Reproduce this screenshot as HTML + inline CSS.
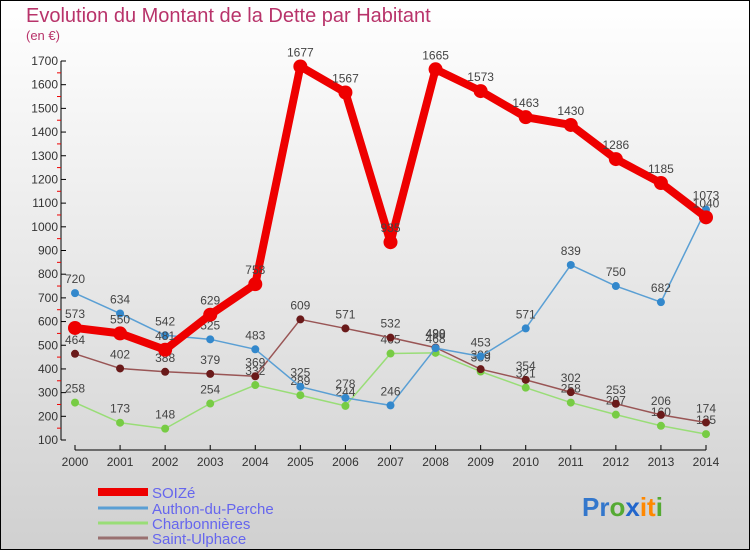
<!DOCTYPE html>
<html><head><meta charset="utf-8"><style>
body{margin:0;}
#c{width:750px;height:550px;position:relative;font-family:"Liberation Sans",sans-serif;}
text{font-family:"Liberation Sans",sans-serif;}
</style></head><body>
<div id="c">
<svg id="s" width="750" height="550" xmlns="http://www.w3.org/2000/svg">
<defs><linearGradient id="bg" x1="0" y1="0" x2="0" y2="1"><stop offset="0" stop-color="#ffffff"/><stop offset="1" stop-color="#d0d0d0"/></linearGradient></defs>
<rect x="0.5" y="0.5" width="749" height="549" fill="url(#bg)" stroke="#000"/>
<text x="26" y="22" font-size="20" fill="#b8336a">Evolution du Montant de la Dette par Habitant</text>
<text x="26" y="40" font-size="13" fill="#b8336a">(en €)</text>
<g id="axes"></g><g id="series"></g>
<g>
<line x1="98" y1="492" x2="148" y2="492" stroke="#ee0000" stroke-width="8"/>
<text x="152" y="498" font-size="15" fill="#6666ee">SOIZé</text>
<line x1="98" y1="508" x2="148" y2="508" stroke="#5a9fd4" stroke-width="3"/>
<text x="152" y="514" font-size="15" fill="#6666ee">Authon-du-Perche</text>
<line x1="98" y1="523" x2="148" y2="523" stroke="#99dd77" stroke-width="3"/>
<text x="152" y="529" font-size="15" fill="#6666ee">Charbonnières</text>
<line x1="98" y1="538" x2="148" y2="538" stroke="#997070" stroke-width="3"/>
<text x="152" y="544" font-size="15" fill="#6666ee">Saint-Ulphace</text>
</g>
<text x="582" y="516" font-size="26" font-weight="bold"><tspan fill="#3377cc">Pr</tspan><tspan fill="#55aa33">o</tspan><tspan fill="#2266cc">x</tspan><tspan fill="#ff8800">it</tspan><tspan fill="#55aa33">i</tspan></text>
</svg></div>
<script>
const years=[2000,2001,2002,2003,2004,2005,2006,2007,2008,2009,2010,2011,2012,2013,2014];
const soize=[573,550,481,629,758,1677,1567,935,1665,1573,1463,1430,1286,1185,1040];
const authon=[720,634,542,525,483,325,278,246,488,453,571,839,750,682,1073];
const charb=[258,173,148,254,332,289,244,465,468,389,321,258,207,160,125];
const ulphace=[464,402,388,379,369,609,571,532,490,399,354,302,253,206,174];
const yTicks=[100,200,300,400,500,600,700,800,900,1000,1100,1200,1300,1400,1500,1600,1700];
const NS="http://www.w3.org/2000/svg";
const X=i=>75+i*(631/14);
const Y=v=>440-(v-100)*(379/1600);
function mk(p,tag,at){const e=document.createElementNS(NS,tag);for(const k in at)e.setAttribute(k,at[k]);p.appendChild(e);return e;}
const ax=document.getElementById('axes');
let l=mk(ax,'line',{x1:61,y1:61,x2:61,y2:440,stroke:'#000'});


l=mk(ax,'line',{x1:75,y1:450,x2:706,y2:450,stroke:'#000'});


yTicks.forEach((v,i)=>{
  mk(ax,'line',{x1:61,y1:Y(v),x2:66,y2:Y(v),stroke:'#000'});
  if(i<yTicks.length-1)mk(ax,'line',{x1:57,y1:Y(v+50),x2:61,y2:Y(v+50),stroke:'#e00'});
  const t=mk(ax,'text',{x:58,y:Y(v)+4,'font-size':12,'text-anchor':'end',fill:'#333'});
  t.textContent=v;
  
  
});
years.forEach((y,i)=>{
  mk(ax,'line',{x1:X(i),y1:445,x2:X(i),y2:450,stroke:'#000'});
  const t=mk(ax,'text',{x:X(i),y:466,'font-size':12,'text-anchor':'middle',fill:'#333'});
  t.textContent=y;
  
  
});
const sg=document.getElementById('series');
function draw(data,name,color,dot,w,r){
  const g=mk(sg,'g',{});
  
  
  const pl=mk(g,'polyline',{points:data.map((v,i)=>X(i)+','+Y(v)).join(' '),fill:'none',stroke:color,'stroke-width':w,'stroke-linejoin':'round'});
  
  
  data.forEach((v,i)=>{
    const c=mk(g,'circle',{cx:X(i),cy:Y(v),r:r,fill:dot});
    
    
    const t=mk(g,'text',{x:X(i),y:Y(v)-10,'font-size':12,'text-anchor':'middle',fill:'#444'});
    t.textContent=v;
    
    
  });
}
draw(charb,'charbonnieres','#99dd77','#77cc44',1.5,4);
draw(ulphace,'saint-ulphace','#995555','#6a1a1a',1.5,4);
draw(authon,'authon','#5a9fd4','#3388cc',1.5,4);
draw(soize,'soize','#ee0000','#ee0000',8,7);
</script>
</body></html>
